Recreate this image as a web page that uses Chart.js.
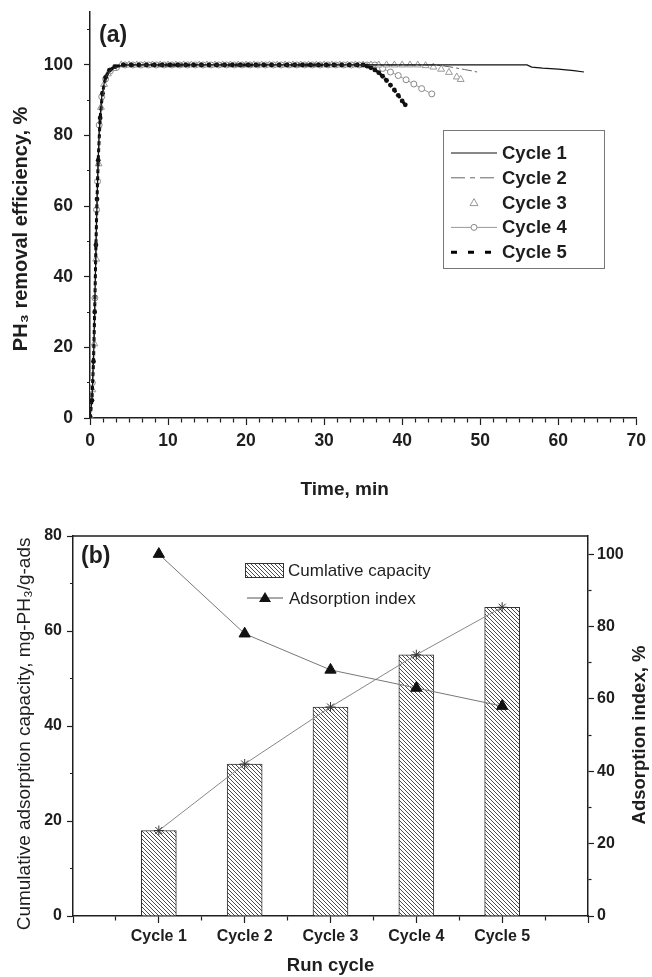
<!DOCTYPE html>
<html>
<head>
<meta charset="utf-8">
<title>PH3 removal and adsorption cycles</title>
<script src="https://cdn.jsdelivr.net/npm/chart.js"></script>
<style>
  html, body { margin: 0; padding: 0; background: #fff; }
  #wrap { position: relative; width: 652px; height: 977px; }
  canvas { position: absolute; left: 0; }
  #chartA { top: 0; }
  #chartB { top: 505px; }
</style>
</head>
<body>
<div id="wrap">
  <canvas id="chartA" width="652" height="505"></canvas>
  <canvas id="chartB" width="652" height="472"></canvas>
</div>
<script>
//------------------ data ------------------
// (a) PH3 removal efficiency (%) against time (min), one pair of arrays per cycle
const cycle1Time = [0, 0.25, 0.5, 0.65, 0.8, 1, 1.2, 1.5, 2, 2.5, 3, 4, 5, 10, 20, 30, 40, 50, 56, 56.6, 58, 60, 62, 63.3];
const cycle1Eff = [0, 5, 20, 36, 52, 70, 82, 91, 97, 98.6, 99.3, 99.8, 100, 100, 100, 100, 100, 100, 100, 99.4, 99.1, 98.8, 98.4, 98.0];

const cycle2Time = [0, 0.3, 0.55, 0.7, 0.85, 1.05, 1.3, 1.6, 2, 2.5, 3, 4, 5, 10, 20, 30, 40, 44, 45, 46, 47, 48, 49, 49.6];
const cycle2Eff = [0, 7, 22, 38, 55, 72, 84, 91, 96.5, 98.4, 99.2, 99.7, 100, 100, 100, 100, 100, 100, 99.8, 99.5, 99.1, 98.7, 98.3, 98.0];

const cycle3Time = [0, 0.3, 0.55, 0.8, 1.1, 1.4, 1.8, 2.3, 3,
  4, 5, 6, 7, 8, 9, 10, 11, 12, 13, 14, 15, 16, 17, 18, 19, 20, 21, 22, 23,
  24, 25, 26, 27, 28, 29, 30, 31, 32, 33, 34, 35, 36, 37, 38, 39, 40, 41, 42,
  43, 44, 45, 46, 47, 47.5];
const cycle3Eff = [0, 8, 21, 45, 72, 88, 94.5, 97.5, 99,
  100, 100, 100, 100, 100, 100, 100, 100, 100, 100, 100, 100, 100, 100, 100, 100, 100, 100, 100, 100,
  100, 100, 100, 100, 100, 100, 100, 100, 100, 100, 100, 100, 100, 100, 100, 100, 100, 100, 100,
  99.8, 99.4, 98.8, 97.9, 96.6, 95.9];

const cycle4Time = [0, 0.3, 0.63, 0.84, 0.97, 1.18, 1.5, 2, 2.6, 3.4,
  4.5, 5.5, 6.5, 7.5, 8.5, 9.5, 10.5, 11.5, 12.5, 13.5, 14.5, 15.5, 16.5, 17.5, 18.5, 19.5, 20.5,
  21.5, 22.5, 23.5, 24.5, 25.5, 26.5, 27.5, 28.5, 29.5, 30.5, 31.5, 32.5, 33.5, 34.5, 35.5, 36.5,
  37.5, 38.5, 39.5, 40.5, 41.5, 42.5, 43.8];
const cycle4Eff = [0, 10, 34, 59, 67, 83, 91, 96, 98.3, 99.3,
  100, 100, 100, 100, 100, 100, 100, 100, 100, 100, 100, 100, 100, 100, 100, 100, 100,
  100, 100, 100, 100, 100, 100, 100, 100, 100, 100, 100, 100, 100, 100, 100, 100,
  99.0, 98.0, 97.0, 95.8, 94.6, 93.3, 91.8];

const cycle5Time = [0, 0.25, 0.45, 0.6, 0.76, 0.9, 1.05, 1.3, 1.6, 2, 2.5, 3.2,
  4.25, 5.25, 6.25, 7.25, 8.25, 9.25, 10.25, 11.25, 12.25, 13.25, 14.25, 15.25, 16.25, 17.25, 18.25, 19.25,
  20.25, 21.25, 22.25, 23.25, 24.25, 25.25, 26.25, 27.25, 28.25, 29.25, 30.25, 31.25, 32.25, 33.25, 34.25,
  35, 35.5, 36, 36.5, 37, 37.5, 38, 38.5, 39, 39.5, 40, 40.4];
const cycle5Eff = [0, 5, 16, 30, 49, 62, 73, 85, 92, 96.5, 98.5, 99.5,
  100, 100, 100, 100, 100, 100, 100, 100, 100, 100, 100, 100, 100, 100, 100, 100,
  100, 100, 100, 100, 100, 100, 100, 100, 100, 100, 100, 100, 100, 100, 100,
  100, 99.7, 99.2, 98.6, 97.8, 96.8, 95.6, 94.3, 92.9, 91.4, 89.8, 88.7];

// (b) cumulative capacity (mg-PH3/g-ads) and adsorption index (%) per run cycle
const cycleLabels = ['Cycle 1', 'Cycle 2', 'Cycle 3', 'Cycle 4', 'Cycle 5'];
const cumulativeCapacity = [18, 32, 44, 55, 65];
const adsorptionIndex = [100, 78, 68, 63, 58];

// labelled ticks
const timeTicks = [0, 10, 20, 30, 40, 50, 60, 70];
const effTicks = [0, 20, 40, 60, 80, 100];
const capacityTicks = [0, 20, 40, 60, 80];
const indexTicks = [0, 20, 40, 60, 80, 100];

//------------------ helpers ------------------
const family = "'Liberation Sans', Arial, Helvetica, sans-serif";
const ink = '#1e1e1e';
Chart.defaults.font.family = family;
Chart.defaults.color = ink;

const near = (v, list) => list.find((t) => Math.abs(t - v) < 1e-6);
const onStep = (v, step) => Math.abs(v / step - Math.round(v / step)) < 1e-6;

// short minor ticks: keep only the piece next to the axis line
const minorDash = (side, full, short) =>
  (side === 'left' || side === 'top') ? [0, full - short, short, 100] : [short, 100];

const pairs = (xs, ys) => xs.map((x, i) => ({ x: x, y: ys[i] }));

const makeHatch = () => {
  const c = document.createElement('canvas');
  c.width = 4;
  c.height = 4;
  const g = c.getContext('2d');
  g.fillStyle = '#fff';
  g.fillRect(0, 0, 4, 4);
  g.strokeStyle = '#4a4a4a';
  g.lineWidth = 1;
  g.beginPath();
  g.moveTo(-1, -1); g.lineTo(5, 5);
  g.moveTo(-1, 3); g.lineTo(1, 5);
  g.moveTo(3, -1); g.lineTo(5, 1);
  g.stroke();
  return g.createPattern(c, 'repeat');
};
const hatch = makeHatch();

const baseOptions = {
  responsive: false,
  animation: false,
  events: [],
};

//------------------ (a) removal efficiency ------------------
const legendStylesA = [
  { dash: [] },
  { dash: [14, 5, 5, 5] },
  { dash: null },
  { dash: [] },
  { dash: [6, 11] },
];

const legendA = {
  id: 'legendA',
  afterDatasetsDraw(chart) {
    const { ctx } = chart;
    ctx.save();
    ctx.fillStyle = '#fff';
    ctx.fillRect(443, 130, 161, 138);
    ctx.strokeStyle = '#777';
    ctx.lineWidth = 1;
    ctx.strokeRect(443.5, 130.5, 161, 138);
    ctx.font = 'bold 18.5px ' + family;
    ctx.textBaseline = 'middle';
    ctx.textAlign = 'left';
    chart.data.datasets.forEach((ds, i) => {
      const y = 153 + i * 24.8;
      const style = legendStylesA[i];
      if (style.dash) {
        ctx.strokeStyle = ds.borderColor;
        ctx.lineWidth = ds.borderWidth;
        ctx.setLineDash(style.dash);
        ctx.beginPath();
        ctx.moveTo(451, y);
        ctx.lineTo(497, y);
        ctx.stroke();
        ctx.setLineDash([]);
      }
      // open markers only (cycles 3 and 4)
      if (ds.pointRadius > 0 && ds.pointBackgroundColor === '#fff') {
        ctx.fillStyle = ds.pointBackgroundColor;
        ctx.strokeStyle = ds.pointBorderColor;
        ctx.lineWidth = 1;
        ctx.beginPath();
        if (ds.pointStyle === 'triangle') {
          ctx.moveTo(474, y - 4);
          ctx.lineTo(478, y + 3);
          ctx.lineTo(470, y + 3);
          ctx.closePath();
        } else {
          ctx.arc(474, y, 3, 0, Math.PI * 2);
        }
        ctx.fill();
        ctx.stroke();
      }
      ctx.fillStyle = ink;
      ctx.fillText(ds.label, 502, y + 1);
    });
    ctx.restore();
  },
};

const panelTag = (text, x, y) => ({
  id: 'panelTag',
  afterDraw(chart) {
    const { ctx } = chart;
    ctx.save();
    ctx.font = 'bold 23px ' + family;
    ctx.fillStyle = ink;
    ctx.textBaseline = 'middle';
    ctx.fillText(text, x, y);
    ctx.restore();
  },
});

new Chart(document.getElementById('chartA'), {
  type: 'scatter',
  data: {
    datasets: [
      {
        label: 'Cycle 1', data: pairs(cycle1Time, cycle1Eff), showLine: true,
        borderColor: '#111', borderWidth: 1.2, pointRadius: 0, order: 0,
      },
      {
        label: 'Cycle 2', data: pairs(cycle2Time, cycle2Eff), showLine: true,
        borderColor: '#666', borderWidth: 1, borderDash: [10, 3, 3, 3], pointRadius: 0, order: 1,
      },
      {
        label: 'Cycle 3', data: pairs(cycle3Time, cycle3Eff), showLine: false,
        pointStyle: 'triangle', pointRadius: 4, pointBackgroundColor: '#fff',
        pointBorderColor: '#999', pointBorderWidth: 1, order: 3,
      },
      {
        label: 'Cycle 4', data: pairs(cycle4Time, cycle4Eff), showLine: true,
        borderColor: '#999', borderWidth: 1, pointStyle: 'circle', pointRadius: 3,
        pointBackgroundColor: '#fff', pointBorderColor: '#888', pointBorderWidth: 1, order: 4,
      },
      {
        label: 'Cycle 5', data: pairs(cycle5Time, cycle5Eff), showLine: true,
        borderColor: '#000', borderWidth: 3, borderDash: [4, 3], pointStyle: 'circle', pointRadius: 2.4,
        pointBackgroundColor: '#111', pointBorderColor: '#111', pointBorderWidth: 0, order: 2,
      },
    ],
  },
  options: {
    ...baseOptions,
    layout: { padding: { top: 12, right: 12, bottom: 0, left: 0 } },
    plugins: { legend: { display: false }, tooltip: { enabled: false } },
    scales: {
      x: {
        type: 'linear', min: 0, max: 70,
        ticks: {
          stepSize: 10 / 6, autoSkip: false, maxRotation: 0, padding: 6,
          font: { size: 17.5, weight: 'bold' },
          callback: (v) => { const t = near(v, timeTicks); return t === undefined ? '' : String(t); },
        },
        grid: {
          drawOnChartArea: false, tickLength: 7, tickColor: ink, tickWidth: 1.2,
          tickBorderDash: (c) => near(c.tick.value, timeTicks) === undefined ? minorDash('bottom', 7, 4) : [],
        },
        border: { color: ink, width: 1.5 },
        title: {
          display: true, text: 'Time, min       ', color: ink,
          font: { size: 19, weight: 'bold' }, padding: { top: 0, bottom: 4 },
        },
        afterFit: (s) => { s.height = 87; },
      },
      y: {
        type: 'linear', min: 0, max: 115,
        ticks: {
          stepSize: 10, autoSkip: false, includeBounds: false, padding: 11,
          font: { size: 17.5, weight: 'bold' },
          callback: (v) => { const t = near(v, effTicks); return t === undefined ? '' : String(t); },
        },
        grid: {
          drawOnChartArea: false, tickLength: 6, tickColor: ink, tickWidth: 1.2,
          tickBorderDash: (c) => near(c.tick.value, effTicks) === undefined ? minorDash('left', 6, 3) : [],
        },
        border: { color: ink, width: 1.5 },
        title: {
          display: true, text: 'PH\u2083 removal efficiency, %     ', color: ink,
          font: { size: 20, weight: 'bold' }, padding: { top: 9, bottom: 0 },
        },
        // fixed axis box; the blank top tick needs no extra room
        afterFit: (s) => { s.width = 90; s.paddingTop = 0; },
      },
    },
  },
  plugins: [legendA, panelTag('(a)', 99, 36)],
});

//------------------ (b) cumulative capacity and adsorption index ------------------
const capacityPoints = pairs([1, 2, 3, 4, 5], cumulativeCapacity);
const indexPoints = pairs([1, 2, 3, 4, 5], adsorptionIndex);

const extrasB = {
  id: 'extrasB',
  afterDraw(chart) {
    const { ctx, chartArea } = chart;
    ctx.save();
    // top edge of the frame
    ctx.strokeStyle = ink;
    ctx.lineWidth = 1.5;
    ctx.beginPath();
    ctx.moveTo(chartArea.left, chartArea.top);
    ctx.lineTo(chartArea.right, chartArea.top);
    ctx.stroke();

    // right axis title, reading bottom to top like the left one
    ctx.fillStyle = ink;
    ctx.font = 'bold 18.5px ' + family;
    ctx.textAlign = 'center';
    ctx.textBaseline = 'middle';
    ctx.translate(640, (chartArea.top + chartArea.bottom) / 2 + 9);
    ctx.rotate(-Math.PI / 2);
    ctx.fillText('Adsorption index, %', 0, 0);
    ctx.restore();

    // legend
    ctx.save();
    ctx.fillStyle = hatch;
    ctx.fillRect(245, 58, 38, 14);
    ctx.strokeStyle = '#333';
    ctx.lineWidth = 1;
    ctx.strokeRect(245.5, 58.5, 38, 14);
    ctx.strokeStyle = '#555';
    ctx.beginPath();
    ctx.moveTo(247, 93);
    ctx.lineTo(283, 93);
    ctx.stroke();
    ctx.fillStyle = '#111';
    ctx.beginPath();
    ctx.moveTo(265, 87);
    ctx.lineTo(271, 97);
    ctx.lineTo(259, 97);
    ctx.closePath();
    ctx.fill();
    ctx.fillStyle = ink;
    ctx.font = '17px ' + family;
    ctx.textBaseline = 'middle';
    ctx.fillText('Cumlative capacity', 288, 66);
    ctx.fillText('Adsorption index', 289, 94);
    ctx.restore();
  },
};

new Chart(document.getElementById('chartB'), {
  type: 'bar',
  data: {
    datasets: [
      {
        type: 'line', label: 'Adsorption index', yAxisID: 'y2', data: indexPoints,
        borderColor: '#777', borderWidth: 1, pointStyle: 'triangle', pointRadius: 6.5,
        pointBackgroundColor: '#111', pointBorderColor: '#111', order: 0,
      },
      {
        type: 'line', label: 'Cumlative capacity (trend)', yAxisID: 'y', data: capacityPoints,
        borderColor: '#888', borderWidth: 1, pointStyle: 'star', pointRadius: 5,
        pointBorderColor: '#333', pointBorderWidth: 1, order: 1,
      },
      {
        type: 'bar', label: 'Cumlative capacity', yAxisID: 'y', data: capacityPoints,
        backgroundColor: hatch, borderColor: '#333', borderWidth: 1,
        barThickness: 35, order: 2,
      },
    ],
  },
  options: {
    ...baseOptions,
    layout: { padding: { top: 31, right: 0, bottom: 0, left: 0 } },
    plugins: { legend: { display: false }, tooltip: { enabled: false } },
    scales: {
      x: {
        type: 'linear', min: 0, max: 6, offset: false,
        ticks: {
          stepSize: 0.5, autoSkip: false, maxRotation: 0, padding: 4,
          font: { size: 16, weight: 'bold' },
          callback: (v) => (onStep(v, 1) && v >= 1 && v <= cycleLabels.length) ? cycleLabels[Math.round(v) - 1] : '',
        },
        grid: {
          offset: false, drawOnChartArea: false, tickLength: 7, tickColor: ink, tickWidth: 1.2,
          tickBorderDash: (c) => onStep(c.tick.value, 1) ? [] : minorDash('bottom', 7, 4),
        },
        border: { color: ink, width: 1.5 },
        title: {
          display: true, text: 'Run cycle', color: ink,
          font: { size: 18.5, weight: 'bold' }, padding: { top: 0, bottom: 0 },
        },
        afterFit: (s) => { s.height = 61; },
      },
      y: {
        type: 'linear', position: 'left', min: 0, max: 80,
        ticks: {
          stepSize: 10, autoSkip: false, padding: 5,
          font: { size: 16, weight: 'bold' },
          callback: (v) => { const t = near(v, capacityTicks); return t === undefined ? '' : String(t); },
        },
        grid: {
          drawOnChartArea: false, tickLength: 6, tickColor: ink, tickWidth: 1.2,
          tickBorderDash: (c) => near(c.tick.value, capacityTicks) === undefined ? minorDash('left', 6, 3) : [],
        },
        border: { color: ink, width: 1.5 },
        title: {
          display: true, text: 'Cumulative adsorption capacity, mg-PH\u2083/g-ads   ', color: ink,
          font: { size: 19 }, padding: { top: 13, bottom: 0 },
        },
        afterFit: (s) => { s.width = 73; },
      },
      y2: {
        type: 'linear', position: 'right', min: 0, max: 105,
        ticks: {
          stepSize: 10, autoSkip: false, includeBounds: false, padding: 3,
          font: { size: 16, weight: 'bold' },
          callback: (v) => { const t = near(v, indexTicks); return t === undefined ? '' : String(t); },
        },
        grid: {
          drawOnChartArea: false, tickLength: 6, tickColor: ink, tickWidth: 1.2,
          tickBorderDash: (c) => near(c.tick.value, indexTicks) === undefined ? minorDash('right', 6, 3) : [],
        },
        border: { color: ink, width: 1.5 },
        afterFit: (s) => { s.width = 64; },
      },
    },
  },
  plugins: [extrasB, panelTag('(b)', 81, 52)],
});
</script>
</body>
</html>
